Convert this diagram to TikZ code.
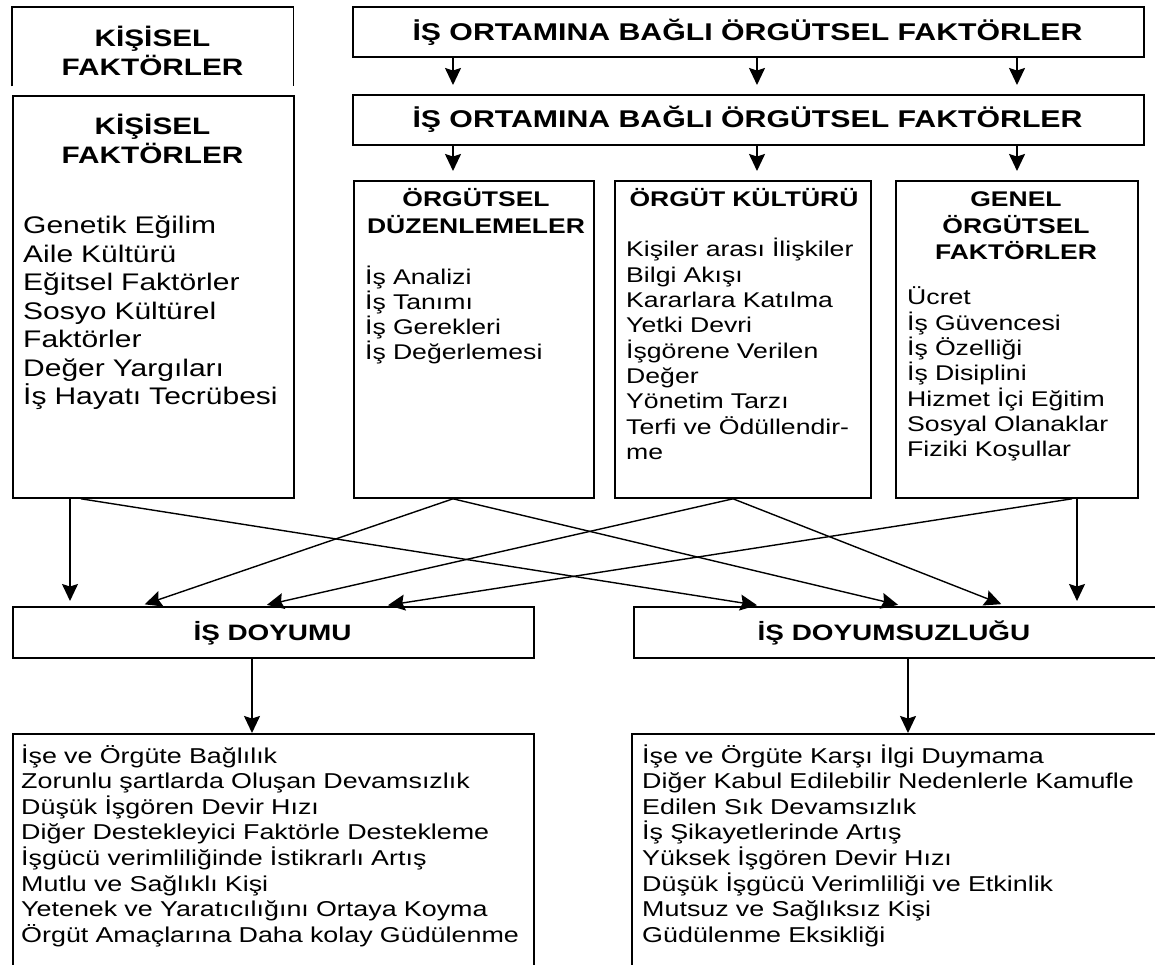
\documentclass[tikz,border=0pt]{standalone}
\usepackage{fontspec}
\setmainfont{Liberation Sans}
\newfontfamily\wideface[FakeStretch=1.25]{Liberation Sans}
\usetikzlibrary{arrows.meta,calc}

\begin{document}
\begin{tikzpicture}[x=1pt,y=-1pt,
  frame/.style={draw=black, line width=1.8pt, inner sep=0pt, anchor=north west, rectangle},
  blank/.style={inner sep=0pt, anchor=north west, rectangle},
  tip/.style={-{Stealth[length=17pt,width=16pt,inset=2.5pt]}},
  arr/.style={tip, line width=1.6pt},
  cross/.style={tip, line width=1.4pt, shorten >=5pt},
  bantext/.style={anchor=base, inner sep=0pt, font={\wideface\bfseries\fontsize{24.2}{28}\selectfont}},
  resulttitle/.style={anchor=base, inner sep=0pt, font={\wideface\bfseries\fontsize{22.3}{26}\selectfont}},
  bighead/.style={anchor=base, inner sep=0pt, text width=275pt, align=center,
    font={\wideface\bfseries\fontsize{23.8}{29}\selectfont}},
  midhead/.style={anchor=base, inner sep=0pt, text width=255pt, align=center,
    font={\wideface\bfseries\fontsize{21.2}{26.5}\selectfont}},
  bigbody/.style={anchor=base west, inner sep=0pt, text width=275pt, align=left,
    font={\wideface\fontsize{24}{28.5}\selectfont}},
  midbody/.style={anchor=base west, inner sep=0pt, text width=250pt, align=left,
    font={\wideface\fontsize{21.3}{25.3}\selectfont}},
  listbody/.style={anchor=base west, inner sep=0pt, text width=515pt, align=left,
    font={\wideface\fontsize{21.5}{25.6}\selectfont}}
]
\path[use as bounding box, clip] (0,0) rectangle (1155,965);
\fill[white] (0,0) rectangle (1155,965);

% personal factors (upper copy, open at the bottom)
\node[blank, minimum width=281pt, minimum height=79pt] (kis0) at (12,7) {};
\draw[line width=1.8pt] (kis0.south west) |- (kis0.north east) -- (kis0.south east);
\node[bighead] (kis0h) at (152.5,47) {KİŞİSEL\\FAKTÖRLER};

% personal factors
\node[frame, minimum width=281pt, minimum height=402pt] (kis) at (12,95) {};
\node[bighead] (kish) at (152.5,135) {KİŞİSEL\\FAKTÖRLER};
\node[bigbody] (kisb) at (23,234) {Genetik Eğilim\\Aile Kültürü\\Eğitsel Faktörler\\Sosyo Kültürel\\Faktörler\\Değer Yargıları\\İş Hayatı Tecrübesi};

% work-environment banners
\node[frame, minimum width=791pt, minimum height=50pt] (ban1) at (352,6) {};
\node[bantext] (ban1t) at (747.5,41) {İŞ ORTAMINA BAĞLI ÖRGÜTSEL FAKTÖRLER};
\node[frame, minimum width=791pt, minimum height=50pt] (ban2) at (352,94) {};
\node[bantext] (ban2t) at (747.5,128) {İŞ ORTAMINA BAĞLI ÖRGÜTSEL FAKTÖRLER};

% organisational factor boxes
\node[frame, minimum width=240pt, minimum height=317pt] (duz) at (353,180) {};
\node[midhead] (duzh) at (476,207) {ÖRGÜTSEL\\DÜZENLEMELER};
\node[midbody] (duzb) at (365,284) {İş Analizi\\İş Tanımı\\İş Gerekleri\\İş Değerlemesi};

\node[frame, minimum width=256pt, minimum height=317pt] (kul) at (614,180) {};
\node[midhead] (kulh) at (744,207) {ÖRGÜT KÜLTÜRÜ};
\node[midbody] (kulb) at (626,257) {Kişiler arası İlişkiler\\Bilgi Akışı\\Kararlara Katılma\\Yetki Devri\\İşgörene Verilen\\Değer\\Yönetim Tarzı\\Terfi ve Ödüllendir-\\me};

\node[frame, minimum width=242pt, minimum height=317pt] (gen) at (895,180) {};
\node[midhead] (genh) at (1016,207) {GENEL\\ÖRGÜTSEL\\FAKTÖRLER};
\node[midbody] (genb) at (907,305) {Ücret\\İş Güvencesi\\İş Özelliği\\İş Disiplini\\Hizmet İçi Eğitim\\Sosyal Olanaklar\\Fiziki Koşullar};

% satisfaction / dissatisfaction
\node[frame, minimum width=521pt, minimum height=51pt] (doy) at (12,606) {};
\node[resulttitle] (doyt) at (272.5,640) {İŞ DOYUMU};
\node[frame, minimum width=540pt, minimum height=51pt] (dys) at (633,606) {};
\node[resulttitle] (dyst) at (894,640) {İŞ DOYUMSUZLUĞU};

% consequence lists (run past the lower edge)
\node[frame, minimum width=521pt, minimum height=260pt] (lst1) at (12,733) {};
\node[listbody] (lst1b) at (21,763) {İşe ve Örgüte Bağlılık\\Zorunlu şartlarda Oluşan Devamsızlık\\Düşük İşgören Devir Hızı\\Diğer Destekleyici Faktörle Destekleme\\İşgücü verimliliğinde İstikrarlı Artış\\Mutlu ve Sağlıklı Kişi\\Yetenek ve Yaratıcılığını Ortaya Koyma\\Örgüt Amaçlarına Daha kolay Güdülenme};
\node[frame, minimum width=540pt, minimum height=260pt] (lst2) at (631,733) {};
\node[listbody] (lst2b) at (642,763) {İşe ve Örgüte Karşı İlgi Duymama\\Diğer Kabul Edilebilir Nedenlerle Kamufle\\Edilen Sık Devamsızlık\\İş Şikayetlerinde Artış\\Yüksek İşgören Devir Hızı\\Düşük İşgücü Verimliliği ve Etkinlik\\Mutsuz ve Sağlıksız Kişi\\Güdülenme Eksikliği};

% column positions of the connectors
\coordinate (ca) at (453,0);
\coordinate (cb) at (757,0);
\coordinate (cc) at (1017,0);
\coordinate (kisV) at (70,0);
\coordinate (kisD) at (81,0);
\coordinate (duzO) at (453,0);
\coordinate (kulO) at (733,0);
\coordinate (genD) at (1072,0);
\coordinate (genV) at (1077,0);
\coordinate (tDuz) at (140,0);
\coordinate (tKul) at (262,0);
\coordinate (tGen) at (383,0);
\coordinate (tKis) at (762,0);
\coordinate (uDuz) at (903,0);
\coordinate (uKul) at (1006,0);
\coordinate (dDoy) at (252,0);
\coordinate (dDys) at (908,0);

% banner to banner, banner to boxes
\foreach \c in {ca,cb,cc} {
  \draw[arr, shorten >=9pt] (ban1.south -| \c) -- (ban2.north -| \c);
  \draw[arr, shorten >=9pt] (ban2.south -| \c) -- (duz.north -| \c);
}

% factors feeding satisfaction and dissatisfaction
\draw[cross] (kis.south -| kisV) -- (doy.north -| kisV);
\draw[cross] (kis.south -| kisD) -- (dys.north -| tKis);
\draw[cross] (duz.south -| duzO) -- (doy.north -| tDuz);
\draw[cross] (duz.south -| duzO) -- (dys.north -| uDuz);
\draw[cross] (kul.south -| kulO) -- (doy.north -| tKul);
\draw[cross] (kul.south -| kulO) -- (dys.north -| uKul);
\draw[cross] (gen.south -| genD) -- (doy.north -| tGen);
\draw[cross] (gen.south -| genV) -- (dys.north -| genV);

% outcomes
\draw[arr] (doy.south -| dDoy) -- (lst1.north -| dDoy);
\draw[arr] (dys.south -| dDys) -- (lst2.north -| dDys);
\end{tikzpicture}
\end{document}
